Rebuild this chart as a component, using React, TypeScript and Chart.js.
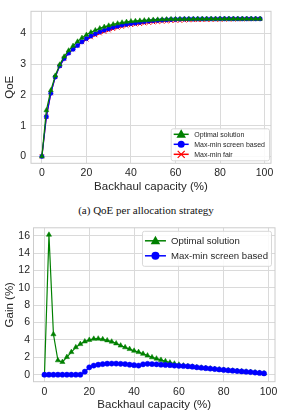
import React, { useEffect, useRef } from "react";
import { Chart, registerables } from "chart.js";

Chart.register(...registerables);

const capacity = [0, 2, 4, 6, 8, 10, 12, 14, 16, 18, 20, 22, 24, 26, 28, 30, 32, 34, 36, 38, 40, 42, 44, 46, 48, 50, 52, 54, 56, 58, 60, 62, 64, 66, 68, 70, 72, 74, 76, 78, 80, 82, 84, 86, 88, 90, 92, 94, 96, 98];

const qoeOptimal = [0, 1.5, 2.15, 2.63, 2.99, 3.25, 3.45, 3.6, 3.74, 3.86, 3.96, 4.04, 4.11, 4.17, 4.22, 4.26, 4.3, 4.33, 4.36, 4.38, 4.4, 4.41, 4.42, 4.43, 4.44, 4.45, 4.455, 4.46, 4.465, 4.47, 4.47, 4.472, 4.474, 4.475, 4.476, 4.477, 4.478, 4.478, 4.479, 4.479, 4.48, 4.48, 4.48, 4.48, 4.48, 4.48, 4.48, 4.48, 4.48, 4.48];
const qoeScreen = [0, 1.292, 2.054, 2.587, 2.947, 3.185, 3.363, 3.49, 3.613, 3.731, 3.84, 3.921, 3.991, 4.056, 4.112, 4.157, 4.204, 4.242, 4.279, 4.303, 4.329, 4.343, 4.368, 4.389, 4.406, 4.421, 4.431, 4.441, 4.451, 4.46, 4.464, 4.47, 4.474, 4.475, 4.476, 4.477, 4.478, 4.478, 4.479, 4.479, 4.48, 4.48, 4.48, 4.48, 4.48, 4.48, 4.48, 4.48, 4.48, 4.48];
const qoeFair = [0, 1.292, 2.054, 2.587, 2.947, 3.185, 3.363, 3.49, 3.613, 3.718, 3.808, 3.88, 3.946, 4.007, 4.06, 4.104, 4.151, 4.19, 4.227, 4.254, 4.282, 4.298, 4.316, 4.335, 4.353, 4.369, 4.381, 4.392, 4.403, 4.414, 4.419, 4.425, 4.431, 4.434, 4.438, 4.441, 4.444, 4.447, 4.45, 4.452, 4.455, 4.458, 4.46, 4.461, 4.463, 4.465, 4.467, 4.469, 4.471, 4.473];

const gainOptimal = [0, 16.1, 4.65, 1.65, 1.46, 2.03, 2.6, 3.15, 3.52, 3.82, 4.0, 4.13, 4.15, 4.08, 3.95, 3.8, 3.6, 3.35, 3.15, 2.95, 2.75, 2.6, 2.4, 2.2, 2.0, 1.85, 1.7, 1.55, 1.4, 1.27, 1.15, 1.05, 0.97, 0.92, 0.85, 0.8, 0.75, 0.7, 0.65, 0.6, 0.55, 0.5, 0.46, 0.42, 0.38, 0.34, 0.3, 0.25, 0.2, 0.15];
const gainScreen = [0, 0, 0, 0, 0, 0, 0, 0, 0, 0.35, 0.85, 1.05, 1.15, 1.22, 1.27, 1.28, 1.28, 1.25, 1.22, 1.15, 1.1, 1.05, 1.2, 1.25, 1.22, 1.2, 1.15, 1.12, 1.1, 1.05, 1.02, 1.0, 0.97, 0.92, 0.85, 0.8, 0.75, 0.7, 0.65, 0.6, 0.55, 0.5, 0.46, 0.42, 0.38, 0.34, 0.3, 0.25, 0.2, 0.15];

const xTicks = [0, 20, 40, 60, 80, 100];
const qoeTicks = [0, 1, 2, 3, 4];
const gainTicks = [0, 2, 4, 6, 8, 10, 12, 14, 16];

const labelOptimal = "Optimal solution";
const labelScreen = "Max-min screen based";
const labelFair = "Max-min fair";
const xTitle = "Backhaul capacity (%)";
const qoeTitle = "QoE";
const gainTitle = "Gain (%)";
const caption = "(a) QoE per allocation strategy";

const GREEN = "#008000";
const BLUE = "#0000ff";
const RED = "#ff0000";
const TEXT = "#262626";
const GRID = "#dadada";
const FONT = '"Liberation Sans", Arial, sans-serif';

type Marker = "triangle" | "circle" | "cross";
type LegendEntry = { label: string; color: string; marker: Marker; r: number };

function drawMarker(ctx: CanvasRenderingContext2D, m: Marker, x: number, y: number, r: number, color: string) {
  ctx.save();
  ctx.fillStyle = color;
  ctx.strokeStyle = color;
  ctx.beginPath();
  if (m === "triangle") {
    ctx.moveTo(x, y - r);
    ctx.lineTo(x + r * 0.95, y + r * 0.7);
    ctx.lineTo(x - r * 0.95, y + r * 0.7);
    ctx.closePath();
    ctx.fill();
  } else if (m === "circle") {
    ctx.arc(x, y, r, 0, Math.PI * 2);
    ctx.fill();
  } else {
    ctx.lineWidth = 1.2;
    ctx.moveTo(x - r, y - r);
    ctx.lineTo(x + r, y + r);
    ctx.moveTo(x - r, y + r);
    ctx.lineTo(x + r, y - r);
    ctx.stroke();
  }
  ctx.restore();
}

function legendPlugin(entries: LegendEntry[], o: { corner: "br" | "tr"; font: number; rowH: number; padY: number; padL: number; lineLen: number; gap: number; padR: number; mx: number; my: number }) {
  return {
    id: "customLegend",
    afterDraw(chart: any) {
      const ctx: CanvasRenderingContext2D = chart.ctx;
      const a = chart.chartArea;
      ctx.save();
      ctx.font = `${o.font}px ${FONT}`;
      const tw = Math.max(...entries.map((e) => ctx.measureText(e.label).width));
      const w = o.padL + o.lineLen + o.gap + tw + o.padR;
      const h = entries.length * o.rowH + 2 * o.padY;
      const x = a.right - o.mx - w;
      const y = o.corner === "br" ? a.bottom - o.my - h : a.top + o.my;
      ctx.beginPath();
      (ctx as any).roundRect(x + 0.5, y + 0.5, w, h, 2);
      ctx.fillStyle = "rgba(255,255,255,0.85)";
      ctx.fill();
      ctx.strokeStyle = "#d8d8d8";
      ctx.lineWidth = 1;
      ctx.stroke();
      entries.forEach((e, i) => {
        const cy = y + o.padY + o.rowH * (i + 0.5);
        const lx = x + o.padL;
        ctx.beginPath();
        ctx.strokeStyle = e.color;
        ctx.lineWidth = 1.5;
        ctx.moveTo(lx, cy);
        ctx.lineTo(lx + o.lineLen, cy);
        ctx.stroke();
        drawMarker(ctx, e.marker, lx + o.lineLen / 2, cy, e.r, e.color);
        ctx.fillStyle = TEXT;
        ctx.textAlign = "left";
        ctx.textBaseline = "middle";
        ctx.fillText(e.label, lx + o.lineLen + o.gap, cy + 0.5);
      });
      ctx.restore();
    },
  };
}

const framePlugin = {
  id: "frame",
  beforeDatasetsDraw(chart: any) {
    const a = chart.chartArea;
    const ctx: CanvasRenderingContext2D = chart.ctx;
    ctx.save();
    ctx.strokeStyle = "#cccccc";
    ctx.lineWidth = 1;
    ctx.strokeRect(a.left, a.top, a.right - a.left, a.bottom - a.top);
    ctx.restore();
  },
};

function pts(arr: number[]) {
  return capacity.map((x, i) => ({ x, y: arr[i] }));
}

function scaleX(height: number, tickPad: number, titleBottom: number) {
  return {
    type: "linear",
    min: -4.9,
    max: 102.9,
    afterBuildTicks: (s: any) => {
      s.ticks = xTicks.map((v) => ({ value: v }));
    },
    afterFit: (s: any) => {
      s.height = height;
    },
    grid: { color: GRID, lineWidth: 1, drawTicks: false },
    border: { display: false },
    ticks: { padding: tickPad, color: TEXT, font: { size: 10.5, family: FONT } },
    title: { display: true, text: xTitle, color: TEXT, font: { size: 11.5, family: FONT }, padding: { top: 0, bottom: titleBottom } },
  };
}

function scaleY(min: number, max: number, ticks: number[], width: number, tickPad: number, title: string) {
  return {
    type: "linear",
    min,
    max,
    afterBuildTicks: (s: any) => {
      s.ticks = ticks.map((v) => ({ value: v }));
    },
    afterFit: (s: any) => {
      s.width = width;
    },
    grid: { color: GRID, lineWidth: 1, drawTicks: false },
    border: { display: false },
    ticks: { padding: tickPad, color: TEXT, font: { size: 10.5, family: FONT } },
    title: { display: true, text: title, color: TEXT, font: { size: 11.5, family: FONT }, padding: { top: 3, bottom: 0 } },
  };
}

export default function App() {
  const topRef = useRef<HTMLCanvasElement>(null);
  const botRef = useRef<HTMLCanvasElement>(null);

  useEffect(() => {
    const top = new Chart(topRef.current as HTMLCanvasElement, {
      type: "line",
      data: {
        datasets: [
          { label: labelOptimal, data: pts(qoeOptimal), borderColor: GREEN, backgroundColor: GREEN, borderWidth: 1.2, pointStyle: "triangle", pointRadius: 2.8, pointBorderWidth: 0.5, order: 1 },
          { label: labelScreen, data: pts(qoeScreen), borderColor: BLUE, backgroundColor: BLUE, borderWidth: 1.2, pointStyle: "circle", pointRadius: 2.2, pointBorderWidth: 0.5, order: 2 },
          { label: labelFair, data: pts(qoeFair), borderColor: RED, backgroundColor: RED, borderWidth: 1.2, pointStyle: "crossRot", pointRadius: 2.8, pointBorderWidth: 1, order: 3 },
        ] as any,
      },
      options: {
        animation: false,
        responsive: false,
        layout: { padding: { top: 7, right: 11, left: 0, bottom: 0 } },
        plugins: { legend: { display: false }, tooltip: { enabled: false } },
        scales: {
          x: scaleX(36.7, 4, 6) as any,
          y: scaleY(-0.225, 4.725, qoeTicks, 31, 5, qoeTitle) as any,
        },
      },
      plugins: [
        framePlugin,
        legendPlugin(
          [
            { label: labelOptimal, color: GREEN, marker: "triangle", r: 5 },
            { label: labelScreen, color: BLUE, marker: "circle", r: 3.5 },
            { label: labelFair, color: RED, marker: "cross", r: 3.5 },
          ],
          { corner: "br", font: 7, rowH: 10, padY: 1, padL: 3, lineLen: 15, gap: 5.5, padR: 4, mx: 2, my: 3 }
        ),
      ],
    });

    const bot = new Chart(botRef.current as HTMLCanvasElement, {
      type: "line",
      data: {
        datasets: [
          { label: labelOptimal, data: pts(gainOptimal), borderColor: GREEN, backgroundColor: GREEN, borderWidth: 1.2, pointStyle: "triangle", pointRadius: 3, pointBorderWidth: 0.5, order: 2 },
          { label: labelScreen, data: pts(gainScreen), borderColor: BLUE, backgroundColor: BLUE, borderWidth: 1.2, pointStyle: "circle", pointRadius: 2.6, pointBorderWidth: 0.5, order: 1 },
        ] as any,
      },
      options: {
        animation: false,
        responsive: false,
        layout: { padding: { top: 8, right: 7, left: 0, bottom: 0 } },
        plugins: { legend: { display: false }, tooltip: { enabled: false } },
        scales: {
          x: scaleX(30.3, 4, 0) as any,
          y: scaleY(-0.805, 16.905, gainTicks, 33.5, 3.5, gainTitle) as any,
        },
      },
      plugins: [
        framePlugin,
        legendPlugin(
          [
            { label: labelOptimal, color: GREEN, marker: "triangle", r: 5 },
            { label: labelScreen, color: BLUE, marker: "circle", r: 4 },
          ],
          { corner: "tr", font: 9.6, rowH: 15, padY: 2.5, padL: 3, lineLen: 21, gap: 5, padR: 3, mx: 4, my: 3 }
        ),
      ],
    });

    return () => {
      top.destroy();
      bot.destroy();
    };
  }, []);

  return (
    <div style={{ position: "absolute", left: 0, top: 0, width: 282, height: 412, background: "#fff", overflow: "hidden" }}>
      <canvas ref={topRef} width={282} height={200} style={{ position: "absolute", left: 0, top: 0, width: 282, height: 200 }} />
      <div
        style={{
          position: "absolute",
          left: 5,
          top: 203,
          width: 282,
          textAlign: "center",
          fontFamily: '"Liberation Serif", "Times New Roman", serif',
          fontSize: 11,
          lineHeight: "15px",
          color: "#111",
        }}
      >
        {caption}
      </div>
      <canvas ref={botRef} width={282} height={194} style={{ position: "absolute", left: 0, top: 218, width: 282, height: 194 }} />
    </div>
  );
}
